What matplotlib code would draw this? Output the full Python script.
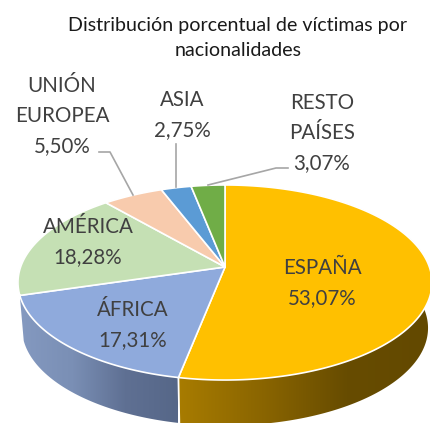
import numpy as np
import matplotlib
matplotlib.use("Agg")
import matplotlib.pyplot as plt
from matplotlib.colors import LinearSegmentedColormap
from matplotlib.patches import Polygon

categories = ["ESPAÑA", "ÁFRICA", "AMÉRICA", "UNIÓN\nEUROPEA", "ASIA", "RESTO\nPAÍSES"]
values = [53.07, 17.31, 18.28, 5.50, 2.75, 3.07]
value_labels = ["53,07%", "17,31%", "18,28%", "5,50%", "2,75%", "3,07%"]
colors = ["#FFC000", "#8FAADC", "#C5E0B4", "#F8CBAD", "#5B9BD5", "#70AD47"]
title = "Distribución porcentual de víctimas por\nnacionalidades"
label_pos = [(322, 283), (133, 325), (88, 242), (62, 116), (182, 115), (322, 133)]

plt.rcParams["font.family"] = ["Lato", "DejaVu Sans"]
fig = plt.figure(figsize=(4.30, 4.23), dpi=100, facecolor="white")
ax = fig.add_axes([0, 0, 1, 1])
ax.set_xlim(0, 430)
ax.set_ylim(423, 0)
ax.axis("off")

# Perspective projection of the unit pie onto the page
CX, CY, K, A, B = 225.0, 267.0, 0.159, 95.06, 204.4


def top(theta):
    x, y = np.sin(theta), np.cos(theta)
    d = 1 + K * y
    return CX + B * x / d, CY - A * y / d


def bottom(theta):
    x, y = top(theta)
    return CX + (x - CX) * 203 / 207, y - 282.5 + 328


fractions = np.array(values) / sum(values)
edges = np.concatenate([[0], np.cumsum(fractions)]) * 2 * np.pi
arcs = [np.linspace(edges[i], edges[i + 1], 200) for i in range(len(values))]

# Side walls with horizontal gradients
wall_styles = {
    0: (["#A87C00", "#8A6500", "#674C00", "#634900"], (178, 431)),
    1: (["#8499C0", "#7A8FB5", "#5F7093", "#566788"], (20, 178)),
}
for i, (stops, (x0, x1)) in wall_styles.items():
    th = arcs[i]
    xt, yt = top(th)
    xb, yb = bottom(th)
    verts = np.column_stack([np.r_[xt, xb[::-1]], np.r_[yt, yb[::-1]]])
    poly = Polygon(verts, closed=True, facecolor="none", edgecolor="none", transform=ax.transData)
    ax.add_patch(poly)
    cmap = LinearSegmentedColormap.from_list("w", stops)
    im = ax.imshow(np.linspace(0, 1, 256)[None, :], cmap=cmap, aspect="auto",
                   extent=(x0, x1, 423, 0), zorder=1)
    im.set_clip_path(poly)
ax.set_xlim(0, 430)
ax.set_ylim(423, 0)

# Wall separator and outer highlight
sx, sy = top(edges[1])
bx, by = bottom(edges[1])
ax.plot([sx, bx], [sy, by], color="white", lw=1.3, zorder=2)

# Top slices
for i, th in enumerate(arcs):
    xt, yt = top(th)
    ax.fill(np.r_[CX, xt], np.r_[CY, yt], facecolor=colors[i], edgecolor="white",
            lw=1.2, joinstyle="round", zorder=3)

# Leader lines
leader = dict(color="#A6A6A6", lw=1.2, zorder=4, solid_joinstyle="round")
ax.plot([99, 110, 133], [152, 152, 195], **leader)
ax.plot([176, 176], [144, 187], **leader)
ax.plot([288, 276, 208], [168, 168, 185], **leader)

# Labels
for cat, val, (x, y) in zip(categories, value_labels, label_pos):
    ax.text(x, y, f"{cat}\n{val}", ha="center", va="center", fontsize=14.8,
            color="#404040", linespacing=1.63, zorder=5)

ax.text(238, 38, title, ha="center", va="center", fontsize=14.1, color="#1A1A1A",
        linespacing=1.54, zorder=5)

fig.savefig("out.png", dpi=100, facecolor="white")
